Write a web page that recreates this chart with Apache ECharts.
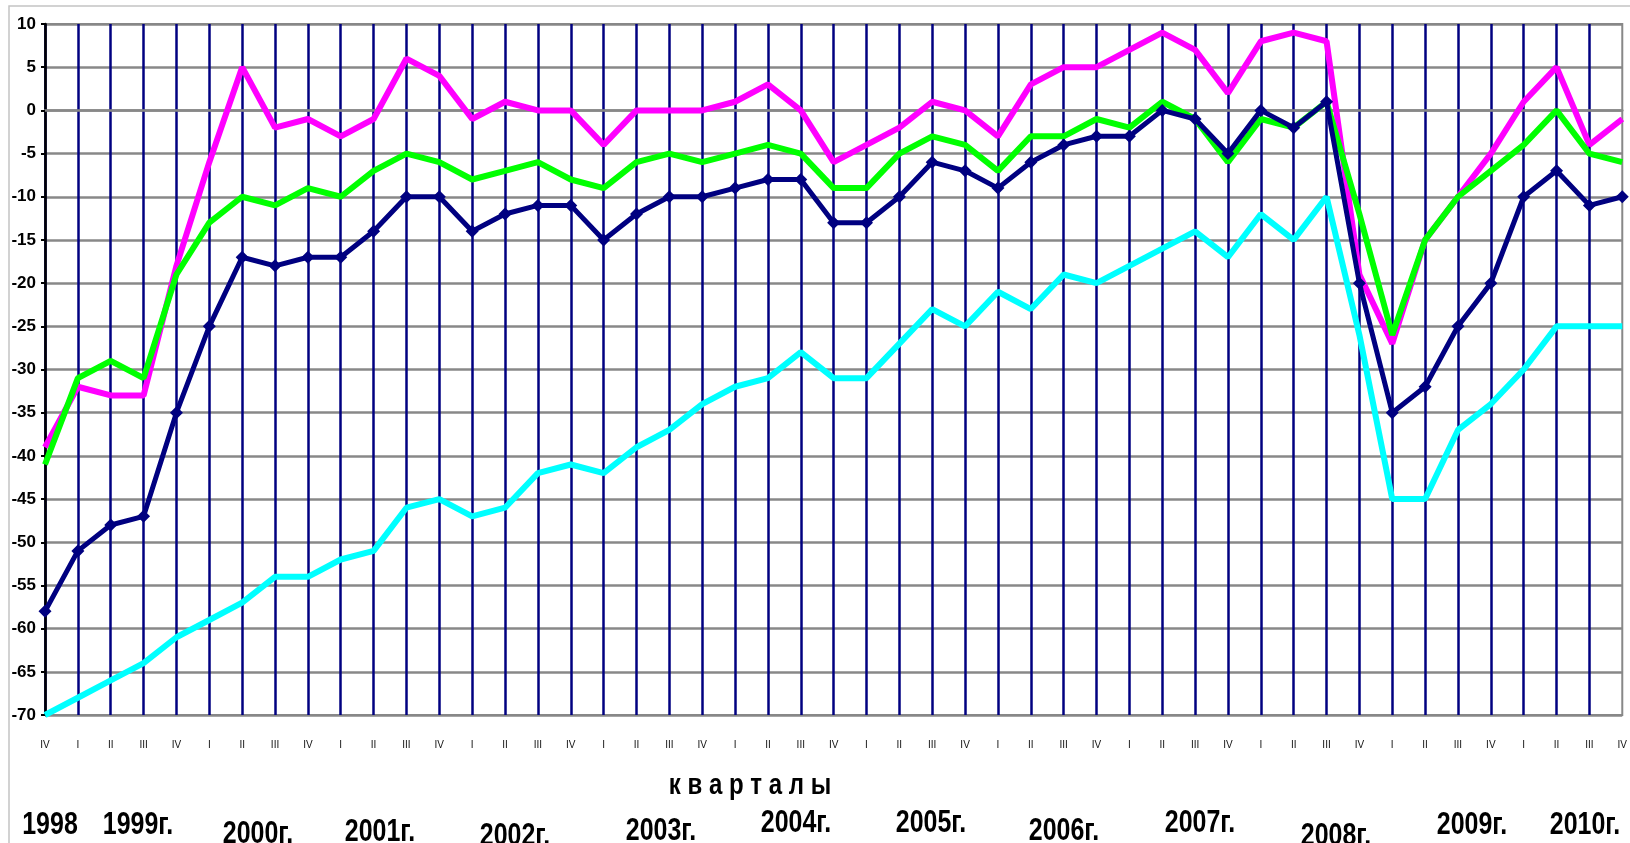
<!DOCTYPE html>
<html>
<head>
<meta charset="utf-8">
<script src="https://cdn.jsdelivr.net/npm/echarts@6/dist/echarts.min.js"></script>
<style>
html, body { margin: 0; padding: 0; background: #fff; }
#chart { width: 1630px; height: 843px; }
</style>
</head>
<body>
<div id="chart"></div>
<script>
// кварталы: 1998 IV ... 2010 IV
const quarters = ['IV',
    'I', 'II', 'III', 'IV', 'I', 'II', 'III', 'IV', 'I', 'II', 'III', 'IV',
    'I', 'II', 'III', 'IV', 'I', 'II', 'III', 'IV', 'I', 'II', 'III', 'IV',
    'I', 'II', 'III', 'IV', 'I', 'II', 'III', 'IV', 'I', 'II', 'III', 'IV',
    'I', 'II', 'III', 'IV', 'I', 'II', 'III', 'IV', 'I', 'II', 'III', 'IV'];

const yearLabels = ['1998', '1999г.', '2000г.', '2001г.', '2002г.', '2003г.', '2004г.',
    '2005г.', '2006г.', '2007г.', '2008г.', '2009г.', '2010г.'];

const yTicks = { min: -70, max: 10, step: 5 };

// розовая линия
const pinkValues = [-39, -32, -33, -33, -18, -6, 5, -2, -1, -3, -1, 6, 4, -1, 1, 0, 0, -4, 0, 0,
    0, 1, 3, 0, -6, -4, -2, 1, 0, -3, 3, 5, 5, 7, 9, 7, 2, 8, 9, 8,
    -19, -27, -15, -10, -5, 1, 5, -4, -1];

// зелёная линия
const greenValues = [-41, -31, -29, -31, -19, -13, -10, -11, -9, -10, -7, -5, -6, -8, -7, -6, -8, -9, -6, -5,
    -6, -5, -4, -5, -9, -9, -5, -3, -4, -7, -3, -3, -1, -2, 1, -1, -6, -1, -2, 1,
    -12, -26, -15, -10, -7, -4, 0, -5, -6];

// тёмно-синяя линия с маркерами
const navyValues = [-58, -51, -48, -47, -35, -25, -17, -18, -17, -17, -14, -10, -10, -14, -12, -11, -11, -15, -12, -10,
    -10, -9, -8, -8, -13, -13, -10, -6, -7, -9, -6, -4, -3, -3, 0, -1, -5, 0, -2, 1,
    -20, -35, -32, -25, -20, -10, -7, -11, -10];

// голубая линия
const cyanValues = [-70, -68, -66, -64, -61, -59, -57, -54, -54, -52, -51, -46, -45, -47, -46, -42, -41, -42, -39, -37,
    -34, -32, -31, -28, -31, -31, -27, -23, -25, -21, -23, -19, -20, -18, -16, -14, -17, -12, -15, -10,
    -26, -45, -45, -37, -34, -30, -25, -25, -25];

// подписи годов под осью (центр x, y в пикселях)
const yearPos = [[50, 825], [138, 825], [258, 834], [380, 832], [515, 836], [661, 831], [796, 823],
    [931, 823], [1064, 831], [1200, 823], [1336, 836], [1472, 825], [1585, 825]];

const FONT = "'Liberation Sans', Arial, sans-serif";

const chart = echarts.init(document.getElementById('chart'));

const graphics = [
    { type: 'rect', z: -10, silent: true,
      shape: { x: 9, y: 6, width: 1700, height: 900 },
      style: { fill: 'none', stroke: '#c4c4c4', lineWidth: 1.5 } },
    { type: 'text', silent: true, x: 750, y: 786, scaleX: 0.8,
      style: { text: 'к в а р т а л ы', x: 0, y: 0, align: 'center', verticalAlign: 'middle',
               font: 'bold 30px ' + FONT, fill: '#000' } }
];
yearLabels.forEach((t, i) => {
    graphics.push({ type: 'text', silent: true, x: yearPos[i][0], y: yearPos[i][1], scaleX: 0.78,
        style: { text: t, x: 0, y: 0, align: 'center', verticalAlign: 'middle',
                 font: 'bold 32px ' + FONT, fill: '#000' } });
});

chart.setOption({
    animation: false,
    backgroundColor: '#fff',
    grid: { left: 45, right: 5, top: 24, bottom: 128, show: true, borderColor: '#888', borderWidth: 2 },
    xAxis: {
        type: 'category',
        data: quarters,
        boundaryGap: false,
        axisLine: { show: true, lineStyle: { color: '#888', width: 2.5 } },
        axisTick: { show: false },
        axisLabel: { interval: 0, fontSize: 10, margin: 25, color: '#111', fontFamily: FONT },
        splitLine: { show: true, interval: 0, showMaxLine: false, lineStyle: { color: '#000080', width: 2.5 } }
    },
    yAxis: {
        type: 'value',
        min: yTicks.min, max: yTicks.max, interval: yTicks.step,
        axisLine: { show: true, lineStyle: { color: '#000', width: 2.5 } },
        axisTick: { show: true, length: 4, lineStyle: { color: '#000', width: 2 } },
        axisLabel: { fontSize: 17, fontWeight: 'bold', color: '#000', margin: 9, fontFamily: FONT },
        splitLine: { show: true, lineStyle: { color: '#888', width: 2.5 } }
    },
    series: [
        { name: 'cyan', type: 'line', data: cyanValues, symbol: 'none',
          lineStyle: { color: '#00ffff', width: 6 }, itemStyle: { color: '#00ffff' } },
        { name: 'pink', type: 'line', data: pinkValues, symbol: 'none',
          lineStyle: { color: '#ff00ff', width: 6 }, itemStyle: { color: '#ff00ff' } },
        { name: 'green', type: 'line', data: greenValues, symbol: 'none',
          lineStyle: { color: '#00ff00', width: 6 }, itemStyle: { color: '#00ff00' } },
        { name: 'navy', type: 'line', data: navyValues, symbol: 'diamond', symbolSize: 13,
          lineStyle: { color: '#000080', width: 5 }, itemStyle: { color: '#000080' } }
    ],
    graphic: graphics
});
</script>
</body>
</html>
